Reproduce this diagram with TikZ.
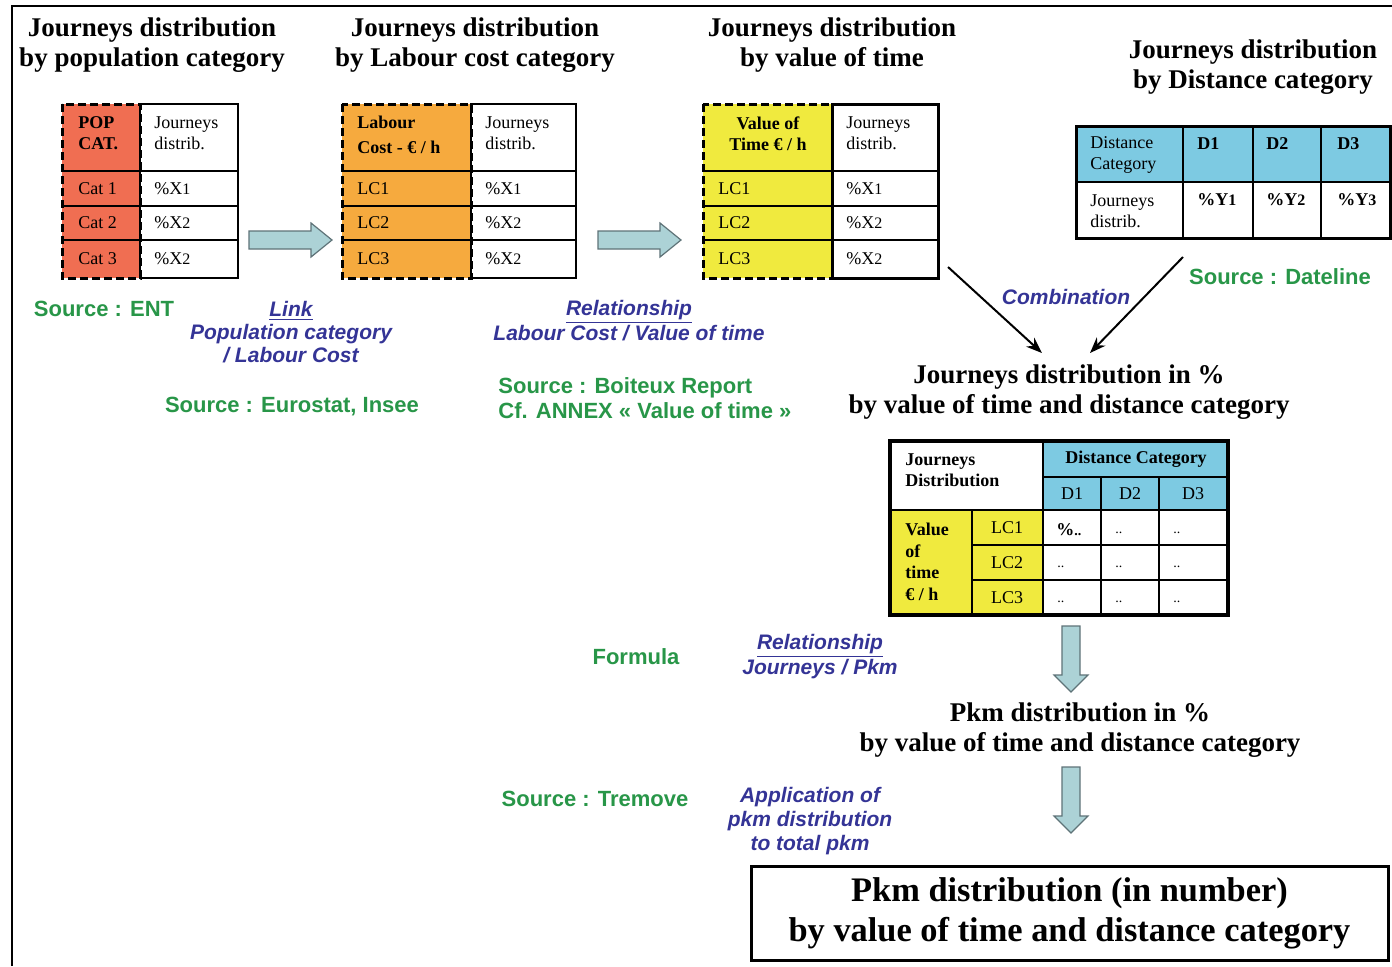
\documentclass[tikz,border=0pt]{standalone}
\usepackage{fontspec}
\setmainfont{Liberation Serif}
\newfontfamily\arial{Liberation Sans}
\usetikzlibrary{arrows.meta}
\definecolor{popred}{RGB}{240,110,82}
\definecolor{lcorange}{RGB}{246,170,62}
\definecolor{vtyellow}{RGB}{240,234,62}
\definecolor{dblue}{RGB}{125,202,226}
\definecolor{arrfill}{RGB}{172,210,214}
\definecolor{arrline}{RGB}{95,115,120}
\definecolor{mygreen}{RGB}{40,150,72}
\definecolor{myblue}{RGB}{52,52,150}
\begin{document}
\begin{tikzpicture}[x=0.5pt,y=-0.5pt,
  title/.style={font=\fontsize{13.5}{15}\selectfont\bfseries, align=center, inner sep=0},
  cell/.style={font=\fontsize{9}{10.5}\selectfont, align=left, inner sep=0, anchor=west},
  cellb/.style={cell, font=\fontsize{9}{10.5}\selectfont\bfseries},
  ccell/.style={cell, anchor=center, align=center},
  ccellb/.style={cellb, anchor=center, align=center},
  gtext/.style={font=\arial\bfseries\fontsize{11}{12.5}\selectfont, text=mygreen, inner sep=0, align=left},
  btext/.style={font=\arial\bfseries\itshape\fontsize{10.5}{11.5}\selectfont, text=myblue, inner sep=0, align=center},
  thinline/.style={line width=0.7pt, black},
  dashbox/.style={line width=1.5pt, dash pattern=on 4pt off 2pt},
  thickbox/.style={line width=1.5pt},
  blockarr/.style={fill=arrfill, draw=arrline, line width=0.6pt, line join=miter},
  conn/.style={line width=1pt, -{Stealth[length=8pt,width=6pt]}}
]
\useasboundingbox (0,0) rectangle (1392,966);
\fill[white] (0,0) rectangle (1392,966);
% outer frame
\draw[line width=1pt] (12,966) -- (12,6) -- (1392,6);

% titles
\node[title] (tit1) at (152,45) {Journeys distribution\\by population category};
\node[title] (tit2) at (475,45) {Journeys distribution\\by Labour cost category};
\node[title] (tit3) at (832,45) {Journeys distribution\\by value of time};
\node[title] (tit4) at (1253,67) {Journeys distribution\\by Distance category};

% ---------- table 1
\fill[popred] (62,104) rectangle (140,278);
\foreach \yy in {171,206,240} \draw[thinline] (62,\yy) -- (238,\yy);
\draw[thinline] (140,104) rectangle (238,278);
\draw[dashbox] (62,104) rectangle (140,278);
\node[cellb] (p0) at (78,133.5) {POP\\CAT.};
\node[cell] (p0r) at (154,133.5) {Journeys\\distrib.};
\node[cell] (p1) at (78,189) {Cat 1};
\node[cell] (p2) at (78,223) {Cat 2};
\node[cell] (p3) at (78,259) {Cat 3};
\node[cell] (p1r) at (154,189) {\%X{\footnotesize 1}};
\node[cell] (p2r) at (154,223) {\%X{\footnotesize 2}};
\node[cell] (p3r) at (154,259) {\%X{\footnotesize 2}};

% block arrow 1
\draw[blockarr] (249,231) -- (311,231) -- (311,223) -- (332,240) -- (311,257) -- (311,249) -- (249,249) -- cycle;

% ---------- table 2
\fill[lcorange] (342,104) rectangle (471,278);
\foreach \yy in {171,206,240} \draw[thinline] (342,\yy) -- (576,\yy);
\draw[thinline] (471,104) rectangle (576,278);
\draw[dashbox] (342,104) rectangle (471,278);
\node[cellb, font=\fontsize{9}{12.5}\selectfont\bfseries] (l0) at (357,135) {Labour\\Cost - € / h};
\node[cell] (l0r) at (485,133.5) {Journeys\\distrib.};
\node[cell] (l1) at (357,189) {LC1};
\node[cell] (l2) at (357,223) {LC2};
\node[cell] (l3) at (357,259) {LC3};
\node[cell] (l1r) at (485,189) {\%X{\footnotesize 1}};
\node[cell] (l2r) at (485,223) {\%X{\footnotesize 2}};
\node[cell] (l3r) at (485,259) {\%X{\footnotesize 2}};

% block arrow 2
\draw[blockarr] (598,231) -- (660,231) -- (660,223) -- (681,240) -- (660,257) -- (660,249) -- (598,249) -- cycle;

% ---------- table 3
\fill[vtyellow] (703,104) rectangle (832,278);
\foreach \yy in {171,206,240} \draw[thinline] (703,\yy) -- (938,\yy);
\draw[thickbox] (832,104) rectangle (938,278);
\draw[dashbox] (703,104) rectangle (832,278);
\node[ccellb] (v0) at (768,133.5) {Value of\\Time € / h};
\node[cell] (v0r) at (846,133.5) {Journeys\\distrib.};
\node[cell] (v1) at (718,189) {LC1};
\node[cell] (v2) at (718,223) {LC2};
\node[cell] (v3) at (718,259) {LC3};
\node[cell] (v1r) at (846,189) {\%X{\footnotesize 1}};
\node[cell] (v2r) at (846,223) {\%X{\footnotesize 2}};
\node[cell] (v3r) at (846,259) {\%X{\footnotesize 2}};

% ---------- table 4 (distance)
\fill[dblue] (1076,126) rectangle (1390,182);
\draw[line width=1pt] (1076,182) -- (1390,182);
\foreach \xx in {1183,1253,1321} \draw[line width=1pt] (\xx,126) -- (\xx,238);
\draw[thickbox] (1076,126) rectangle (1390,238);
\node[cell] (d0) at (1090,155) {Distance\\Category};
\node[cellb] (d1) at (1197,144) {D1};
\node[cellb] (d2) at (1266,144) {D2};
\node[cellb] (d3) at (1337,144) {D3};
\node[cell] (d0r) at (1090,211) {Journeys\\distrib.};
\node[cellb] (y1) at (1197,200) {\%Y{\footnotesize 1}};
\node[cellb] (y2) at (1266,200) {\%Y{\footnotesize 2}};
\node[cellb] (y3) at (1337,200) {\%Y{\footnotesize 3}};

\node[gtext] (srcdate) at (1280,277) {Source : Dateline};

% combination arrows
\coordinate (c1s) at (948,267);
\coordinate (c1e) at (1042,353);
\coordinate (c2s) at (1183,257);
\coordinate (c2e) at (1090,353);
\draw[conn] (c1s) -- (c1e);
\draw[conn] (c2s) -- (c2e);
\node[btext] (comb) at (1066,297) {Combination};

\node[title] (tit5) at (1069,392) {Journeys distribution in \%\\by value of time and distance category};

% ---------- table 5
\fill[white] (890,441) rectangle (1043,510);
\fill[dblue] (1043,441) rectangle (1228,510);
\fill[vtyellow] (890,510) rectangle (1043,615);
\draw[line width=1pt] (1043,441) -- (1043,615);
\draw[line width=1pt] (1043,477) -- (1228,477);
\draw[line width=1pt] (1101,477) -- (1101,615);
\draw[line width=1pt] (1159,477) -- (1159,615);
\draw[line width=1pt] (890,510) -- (1228,510);
\draw[line width=1pt] (972,510) -- (972,615);
\draw[line width=1pt] (972,545) -- (1228,545);
\draw[line width=1pt] (972,580) -- (1228,580);
\draw[line width=2pt] (890,441) rectangle (1228,615);
\node[cellb] (m0) at (905,470) {Journeys\\Distribution};
\node[ccellb] (m0d) at (1136,459) {Distance Category};
\node[ccell] (md1) at (1072,494) {D1};
\node[ccell] (md2) at (1130,494) {D2};
\node[ccell] (md3) at (1193,494) {D3};
\node[cellb, font=\fontsize{9}{10.8}\selectfont\bfseries] (mv) at (905,562) {Value\\of\\time\\€ / h};
\node[ccell] (mlc1) at (1007,528) {LC1};
\node[ccell] (mlc2) at (1007,563) {LC2};
\node[ccell] (mlc3) at (1007,598) {LC3};
\node[cellb] (m11) at (1056,530) {\%{\scriptsize ..}};
\node[cell] (m12) at (1115,533) {\scriptsize ..};
\node[cell] (m13) at (1173,533) {\scriptsize ..};
\node[cell] (m21) at (1057,567) {\scriptsize ..};
\node[cell] (m22) at (1115,567) {\scriptsize ..};
\node[cell] (m23) at (1173,567) {\scriptsize ..};
\node[cell] (m31) at (1057,602) {\scriptsize ..};
\node[cell] (m32) at (1115,602) {\scriptsize ..};
\node[cell] (m33) at (1173,602) {\scriptsize ..};

% down arrow 1
\draw[blockarr] (1062,626) -- (1080,626) -- (1080,675) -- (1088,675) -- (1071,692) -- (1054,675) -- (1062,675) -- cycle;
\node[gtext] (formula) at (636,657) {Formula};
\node[btext] (rel2) at (820,656.5) {\underline{Relationship}\\Journeys / Pkm};

\node[title] (tit6) at (1080,730) {Pkm distribution in \%\\by value of time and distance category};

% down arrow 2
\draw[blockarr] (1062,767) -- (1080,767) -- (1080,816) -- (1088,816) -- (1071,833) -- (1054,816) -- (1062,816) -- cycle;
\node[gtext] (srctrem) at (595,799) {Source : Tremove};
\node[btext, font=\arial\bfseries\itshape\fontsize{10.5}{12}\selectfont] (appl) at (810,821) {Application of\\pkm distribution\\to total pkm};

% final box
\node[draw, line width=1.5pt, minimum width=637*0.5pt, minimum height=94*0.5pt, inner sep=0,
      font=\fontsize{17.2}{20}\selectfont\bfseries, align=center] (final) at (1069.5,913)
      {Pkm distribution (in number)\\by value of time and distance category};

% left labels
\node[gtext] (srcent) at (104,309) {Source : ENT};
\node[btext] (link) at (291,332) {\underline{Link}\\Population category\\/ Labour Cost};
\node[gtext] (srceuro) at (292,407) {Source : Eurostat, Insee};
\node[btext] (rel1) at (629,320.5) {\underline{Relationship}\\Labour Cost / Value of time};
\node[gtext, font=\arial\bfseries\fontsize{11}{12.5}\selectfont, anchor=west] (srcboit) at (498,398.5) {Source : Boiteux Report\\Cf. ANNEX « Value of time »};
\end{tikzpicture}
\end{document}
